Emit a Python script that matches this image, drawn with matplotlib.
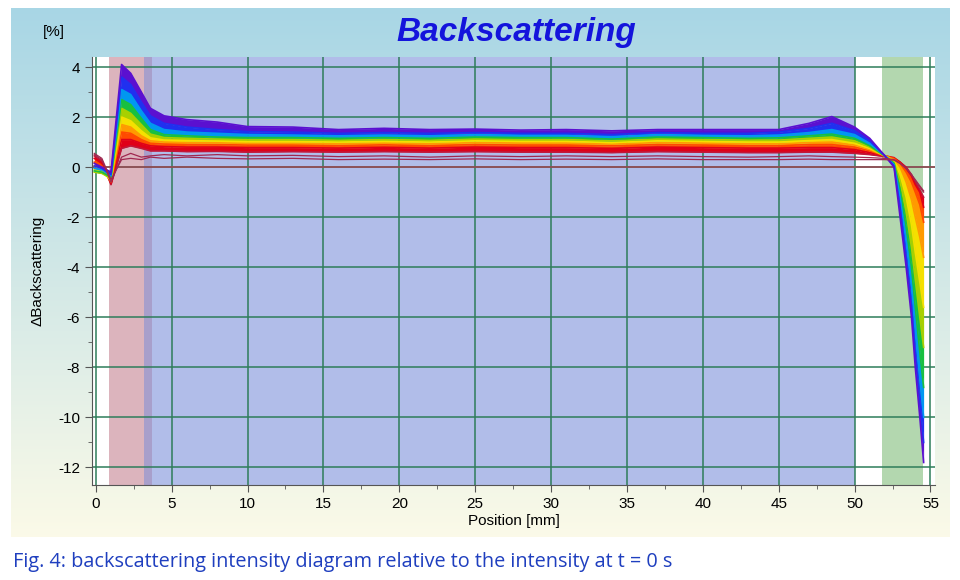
import matplotlib.pyplot as plt
import numpy as np

# positions along the cell [mm]
pos = [-0.1, 0.4, 1.0, 1.7, 2.3, 3.0, 3.6, 4.5, 6, 8, 10, 13, 16, 19, 22, 25, 28, 31, 34,
       37, 40, 43, 45, 47, 48.5, 50, 51, 52, 52.6, 53, 53.4, 53.75, 54.0, 54.3, 54.55]

# delta backscattering profiles [%], early (bottom) -> late (top)
early_1 = [0.5, 0.3, -0.6, 0.4, 0.55, 0.4, 0.45, 0.5, 0.45, 0.5, 0.45, 0.47, 0.42, 0.45, 0.4, 0.45, 0.42, 0.45,
           0.42, 0.45, 0.42, 0.4, 0.42, 0.45, 0.42, 0.4, 0.38, 0.35, 0.3, 0.15, -0.05, -0.3, -0.55, -0.8, -1.0]
early_2 = [0.55, 0.35, -0.5, 0.3, 0.35, 0.3, 0.4, 0.35, 0.4, 0.35, 0.33, 0.35, 0.3, 0.32, 0.3, 0.33, 0.3, 0.32,
           0.3, 0.33, 0.3, 0.3, 0.3, 0.32, 0.3, 0.3, 0.3, 0.3, 0.28, 0.15, -0.05, -0.3, -0.5, -0.75, -0.95]
prof_a = [0.45, 0.25, -0.7, 0.75, 0.85, 0.75, 0.65, 0.65, 0.62, 0.63, 0.6, 0.62, 0.6, 0.62, 0.6, 0.62, 0.6, 0.6,
          0.58, 0.62, 0.6, 0.58, 0.58, 0.6, 0.6, 0.55, 0.5, 0.42, 0.35, 0.2, 0.0, -0.3, -0.6, -0.9, -1.2]
prof_b = [0.35, 0.15, -0.65, 1.1, 1.1, 0.95, 0.85, 0.82, 0.8, 0.8, 0.78, 0.78, 0.76, 0.79, 0.76, 0.8, 0.78, 0.78,
          0.75, 0.8, 0.78, 0.76, 0.76, 0.78, 0.78, 0.7, 0.58, 0.45, 0.38, 0.2, -0.05, -0.35, -0.7, -1.0, -1.6]
prof_c = [0.2, 0.05, -0.6, 1.4, 1.35, 1.1, 0.95, 0.92, 0.9, 0.9, 0.88, 0.88, 0.86, 0.89, 0.86, 0.9, 0.88, 0.88,
          0.85, 0.9, 0.88, 0.86, 0.86, 0.9, 0.9, 0.8, 0.65, 0.45, 0.35, 0.15, -0.2, -0.6, -1.0, -1.5, -2.2]
prof_d = [0.05, -0.1, -0.55, 1.7, 1.6, 1.25, 1.05, 1.0, 0.98, 0.97, 0.95, 0.95, 0.93, 0.96, 0.93, 0.98, 0.96, 0.96,
          0.92, 0.98, 0.96, 0.93, 0.93, 0.98, 1.0, 0.88, 0.7, 0.45, 0.3, 0.0, -0.6, -1.3, -2.0, -2.8, -3.6]
prof_e = [-0.1, -0.2, -0.5, 2.0, 1.85, 1.45, 1.17, 1.08, 1.06, 1.04, 1.02, 1.02, 1.0, 1.03, 1.0, 1.05, 1.03, 1.03,
          0.98, 1.05, 1.03, 1.0, 1.0, 1.06, 1.1, 0.95, 0.75, 0.45, 0.25, -0.3, -1.2, -2.3, -3.4, -4.6, -5.6]
prof_f = [-0.2, -0.25, -0.45, 2.35, 2.15, 1.7, 1.32, 1.18, 1.15, 1.12, 1.1, 1.1, 1.07, 1.1, 1.07, 1.12, 1.1, 1.1,
          1.05, 1.12, 1.1, 1.08, 1.08, 1.15, 1.2, 1.05, 0.8, 0.45, 0.2, -0.6, -1.8, -3.2, -4.5, -6.0, -7.2]
prof_g = [-0.15, -0.2, -0.4, 2.7, 2.5, 1.95, 1.5, 1.3, 1.25, 1.2, 1.18, 1.18, 1.15, 1.18, 1.15, 1.2, 1.18, 1.18,
          1.12, 1.2, 1.18, 1.15, 1.17, 1.25, 1.32, 1.15, 0.85, 0.45, 0.15, -0.9, -2.4, -4.0, -5.6, -7.4, -8.8]
prof_h = [-0.05, -0.1, -0.35, 3.1, 2.9, 2.25, 1.75, 1.5, 1.4, 1.35, 1.3, 1.28, 1.25, 1.28, 1.25, 1.3, 1.27, 1.27,
          1.22, 1.3, 1.27, 1.25, 1.28, 1.38, 1.5, 1.3, 0.95, 0.45, 0.1, -1.2, -3.0, -4.8, -6.6, -8.5, -10.0]
prof_i = [0.05, -0.05, -0.3, 3.6, 3.3, 2.6, 2.05, 1.75, 1.6, 1.5, 1.42, 1.4, 1.35, 1.38, 1.35, 1.38, 1.35, 1.35,
          1.3, 1.38, 1.35, 1.35, 1.4, 1.55, 1.75, 1.45, 1.05, 0.45, 0.05, -1.6, -3.6, -5.5, -7.4, -9.4, -11.0]
prof_j = [0.15, 0.0, -0.2, 4.1, 3.75, 3.0, 2.35, 2.05, 1.9, 1.8, 1.62, 1.6, 1.5, 1.55, 1.5, 1.52, 1.48, 1.5,
          1.45, 1.5, 1.5, 1.5, 1.5, 1.75, 2.02, 1.6, 1.15, 0.45, 0.0, -2.0, -4.0, -6.0, -8.0, -10.0, -11.8]

profiles = [prof_a, prof_b, prof_c, prof_d, prof_e, prof_f, prof_g, prof_h, prof_i, prof_j]
early_lines = [early_1, early_2]

# zones along the cell [mm]
zone_edges = [-0.25, 0.85, 3.15, 3.7, 50, 51.8, 54.5, 55.3]

colors = ['#c0183a', '#e00018', '#ff4a00', '#ff9a00', '#f5e000', '#a8d000',
          '#18c040', '#0098f0', '#2030f0', '#5b10d0']
zone_colors = ['white', '#dcb4bd', '#a89fcb', '#b1bde9', 'white', '#b3d7af', 'white']

plt.rcParams['font.family'] = ['Liberation Sans', 'DejaVu Sans']
plt.rcParams['axes.unicode_minus'] = False

fig = plt.figure(figsize=(9.6, 5.8), dpi=100)

# card background with vertical gradient
bg = fig.add_axes([11 / 960, 1 - 537 / 580, 939 / 960, 529 / 580], zorder=-5)
grad = np.linspace(0, 1, 256).reshape(-1, 1)
top = np.array([0.66, 0.84, 0.90])
bot = np.array([0.985, 0.98, 0.91])
img = top + (bot - top) * grad[..., None]
bg.imshow(img, aspect='auto', extent=[0, 1, 0, 1])
bg.axis('off')

ax = fig.add_axes([92 / 960, 1 - 485 / 580, 843 / 960, 428 / 580])
ax.set_facecolor('white')

for i in range(len(zone_colors)):
    ax.axvspan(zone_edges[i], zone_edges[i + 1], color=zone_colors[i], lw=0, zorder=0)

# grid lines
ax.set_axisbelow('line')
ax.grid(True, color='#2e7d5a', lw=1.1)
ax.axhline(0, color='#a04452', lw=1.1, zorder=1.6)

# profile bands
for k in range(1, len(profiles)):
    ax.fill_between(pos, profiles[k - 1], profiles[k], color=colors[k], lw=0, zorder=2)
for k, p in enumerate(profiles):
    ax.plot(pos, p, color=colors[k], lw=1.2, zorder=3)
for p in early_lines:
    ax.plot(pos, p, color='#a02850', lw=0.9, zorder=3)

ax.set_xlim(-0.25, 55.3)
ax.set_ylim(-12.7, 4.4)
ax.set_xticks(np.arange(0, 56, 5))
ax.set_yticks(np.arange(-12, 5, 2))
ax.set_xticks(np.arange(2.5, 55, 5), minor=True)
ax.set_yticks(np.arange(-11, 5, 2), minor=True)
ax.tick_params(axis='both', which='major', labelsize=11, length=5, color='#555555')
ax.tick_params(axis='both', which='minor', length=3, color='#555555')
for s in ['top', 'right']:
    ax.spines[s].set_visible(False)
for s in ['left', 'bottom']:
    ax.spines[s].set_color('#555555')

ax.set_xlabel('Position [mm]', fontsize=11, labelpad=2)
ax.set_ylabel('ΔBackscattering', fontsize=11, labelpad=10)

fig.text(516 / 960, 1 - 33 / 580, 'Backscattering', fontsize=24, fontweight='bold',
         fontstyle='italic', color='#1414dc', ha='center', va='center')
fig.text(54 / 960, 1 - 32 / 580, '[%]', fontsize=11, ha='center', va='center')

fig.text(13 / 960, 1 - 562 / 580, 'Fig. 4: backscattering intensity diagram relative to the intensity at t = 0 s',
         fontsize=14.3, color='#1f3fbf', ha='left', va='center', family=['Open Sans', 'DejaVu Sans'])

fig.savefig('out.png', dpi=100)
